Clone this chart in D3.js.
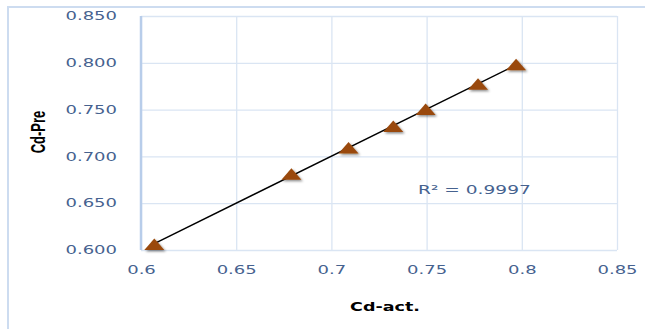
<!DOCTYPE html>
<html>
<head>
<meta charset="utf-8">
<script src="https://cdn.jsdelivr.net/npm/d3@7"></script>
<style>
  body { margin: 0; background: #fff; }
  svg { display: block; }
</style>
</head>
<body>
<div id="chart"></div>
<script>
// values
const cdAct = [0.607, 0.679, 0.709, 0.7325, 0.7495, 0.777, 0.797];
const cdPre = [0.606, 0.681, 0.709, 0.732, 0.750, 0.777, 0.798];
const xTicks = [0.6, 0.65, 0.7, 0.75, 0.8, 0.85];
const yTicks = [0.6, 0.65, 0.7, 0.75, 0.8, 0.85];
const r2Label = "R² = 0.9997";

const W = 645, H = 329;
const margin = {top: 16, right: 28, bottom: 79, left: 141},
    width = W - margin.left - margin.right,
    height = H - margin.top - margin.bottom;
const sx = 1.5; // the picture is stretched sideways

const svg = d3.select("#chart").append("svg")
  .attr("width", W)
  .attr("height", H);

// outer frame (left + top only visible)
svg.append("path")
  .attr("fill", "none")
  .attr("stroke", "#cddcf0")
  .attr("stroke-width", 2)
  .attr("d", `M8,${H} V7 H${W}`);

const x = d3.scaleLinear().domain([0.6, 0.85]).range([0, width]);
const y = d3.scaleLinear().domain([0.6, 0.85]).range([height, 0]);

const g = svg.append("g")
  .attr("transform", `translate(${margin.left},${margin.top})`);

// gridlines + labels via axes
const xAxis = g.append("g")
  .attr("transform", `translate(0,${height})`)
  .call(d3.axisBottom(x).tickValues(xTicks).tickSize(-height).tickFormat(d => String(d)));
xAxis.select(".domain").remove();
xAxis.selectAll("line").attr("stroke", "#dae5f3").attr("stroke-width", 1.3);
xAxis.selectAll("text")
  .attr("y", 24.5).attr("dy", 0)
  .attr("transform", `scale(${sx},1)`)
  .attr("fill", "#46628f")
  .style("font-family", "DejaVu Sans, Verdana, sans-serif")
  .style("font-size", "12px");

const yAxis = g.append("g")
  .call(d3.axisLeft(y).tickValues(yTicks).tickSize(-width).tickFormat(d3.format(".3f")));
yAxis.select(".domain").remove();
yAxis.selectAll("line").attr("stroke", "#dae5f3").attr("stroke-width", 1.3);
yAxis.selectAll("text")
  .attr("x", -24 / sx).attr("dy", "0.3em")
  .attr("transform", `scale(${sx},1)`)
  .attr("fill", "#46628f")
  .style("font-family", "DejaVu Sans, Verdana, sans-serif")
  .style("font-size", "12px");

// vertical value axis line
g.append("line")
  .attr("x1", 0).attr("x2", 0)
  .attr("y1", 0).attr("y2", height)
  .attr("stroke", "#b8cdea")
  .attr("stroke-width", 2.5);

// linear trendline (least squares)
const mx = d3.mean(cdAct), my = d3.mean(cdPre);
const slope = d3.sum(cdAct, (v, i) => (v - mx) * (cdPre[i] - my)) / d3.sum(cdAct, v => (v - mx) ** 2);
const icpt = my - slope * mx;
const [x0, x1] = d3.extent(cdAct);

g.append("line")
  .attr("x1", x(x0)).attr("y1", y(icpt + slope * x0))
  .attr("x2", x(x1)).attr("y2", y(icpt + slope * x1))
  .attr("stroke", "#000")
  .attr("stroke-width", 1.5);

// markers
const defs = svg.append("defs");
const f = defs.append("filter").attr("id", "shadow")
  .attr("x", "-30%").attr("y", "-30%").attr("width", "160%").attr("height", "170%");
f.append("feDropShadow")
  .attr("dx", 1.5).attr("dy", 1.5).attr("stdDeviation", 1)
  .attr("flood-color", "#000").attr("flood-opacity", 0.45);

const tw = 10, th = 6;
g.selectAll(".pt")
  .data(cdAct.map((v, i) => [v, cdPre[i]]))
  .join("path")
  .attr("class", "pt")
  .attr("d", d => `M${x(d[0])},${y(d[1]) - th} L${x(d[0]) + tw},${y(d[1]) + th - 0.5} L${x(d[0]) - tw},${y(d[1]) + th - 0.5} Z`)
  .attr("fill", "#9a4a0c")
  .attr("filter", "url(#shadow)");

// R² label
svg.append("text")
  .attr("transform", `translate(418,194) scale(1.55,1)`)
  .attr("fill", "#46628f")
  .style("font-family", "DejaVu Sans, Verdana, sans-serif")
  .style("font-size", "12px")
  .text(r2Label);

// axis titles
svg.append("text")
  .attr("transform", `translate(385,311) scale(1.46,1)`)
  .attr("text-anchor", "middle")
  .style("font-family", "DejaVu Sans, sans-serif")
  .style("font-weight", "bold")
  .style("font-size", "12px")
  .text("Cd-act.");

svg.append("text")
  .attr("transform", `translate(45,132) scale(${sx},1) rotate(-90)`)
  .attr("text-anchor", "middle")
  .style("font-family", "Liberation Sans, Arial, sans-serif")
  .style("font-weight", "bold")
  .style("font-size", "13px")
  .text("Cd-Pre");
</script>
</body>
</html>
